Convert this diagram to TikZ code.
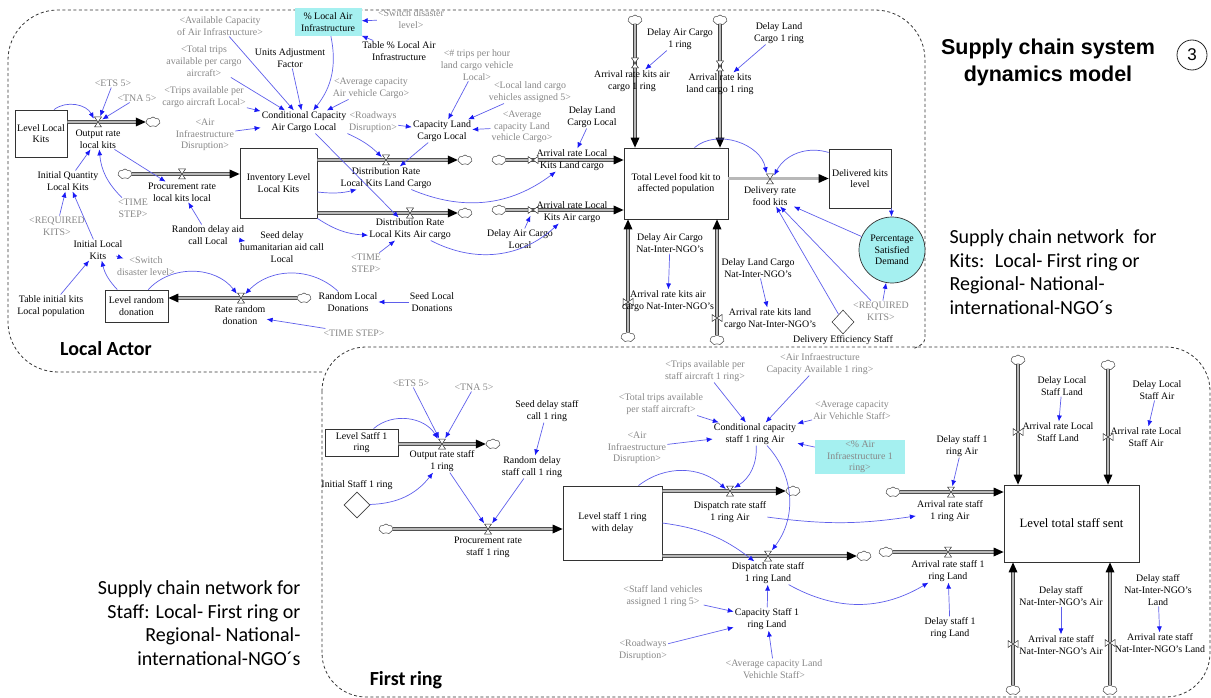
\documentclass[tikz,border=0pt]{standalone}
\usepackage{fontspec}
\setmainfont{Liberation Serif}
\newfontfamily\arialfam{Liberation Sans}
\newfontfamily\calfam{Carlito}
\usepackage{tikz}
\usetikzlibrary{
    arrows.meta,
    shapes.geometric,
    shapes.symbols,
    decorations.markings
}
\definecolor{linkc}{RGB}{95,95,235}
\definecolor{tipc}{RGB}{25,25,245}
\definecolor{ghostc}{RGB}{135,135,135}
\definecolor{aquac}{RGB}{165,240,240}
\newcommand{\vfont}{\fontsize{9.9}{11.7}\selectfont}

\begin{document}
\begin{tikzpicture}[x=1pt, y=-1pt,
        zone/.style={draw=black!80, line width=0.8pt, dash pattern=on 3pt off 2.5pt},
        stock/.style={draw=black!80, line width=0.8pt, fill=white, font=\vfont, align=center, inner sep=1pt},
        var/.style={font=\vfont, align=center, inner sep=1pt},
        ghost/.style={var, text=ghostc},
        sink/.style={cloud, cloud puffs=7, cloud puff arc=110, aspect=1.4, draw=black!75, fill=white,
            line width=0.5pt, minimum width=14pt, minimum height=10pt, inner sep=0pt},
        vnode/.style={inner sep=0pt, minimum width=8pt, minimum height=11pt},
        pipe/.style={draw=black!75, line width=0.7pt, double=black!28, double distance=2.4pt, shorten >=5pt,
            postaction={decorate, decoration={markings, mark=at position 1 with
                {\fill[black] (0pt,0pt) -- (-10pt,4.5pt) -- (-10pt,-4.5pt) -- cycle;}}}},
        link/.style={draw=linkc, line width=0.7pt, -{Latex[length=6pt, width=5pt, color=tipc]}},
        aux/.style={diamond, draw=black!75, fill=white, line width=0.6pt, inner sep=0pt},
        note/.style={font=\calfam\fontsize{20}{23.5}\selectfont},
        hourglass/.pic={\draw[draw=black!80, fill=white, line width=0.5pt]
            (-3.5,-5) -- (3.5,-5) -- (-3.5,5) -- (3.5,5) -- cycle;}
    ]
    \useasboundingbox (0,0) rectangle (1211,698);

    % actor zones
    \draw[zone, rounded corners=50pt] (322,372) -- (8,372) -- (8,10) -- (925,10) -- (925,334);
    \draw[zone] (925,334) .. controls (925,343) .. (913,349);
    \draw[zone, rounded corners=44pt] (322,347) rectangle (1210,697);

    % headings and notes
    \node[font=\arialfam\bfseries\fontsize{21.5}{27}\selectfont, align=center] (title) at (1048,62) {Supply chain system\\dynamics model};
    \node[circle, draw=black!85, line width=0.8pt, minimum size=30pt, inner sep=0pt,
        font=\arialfam\fontsize{17}{17}\selectfont] (num) at (1192,55) {3};
    \node[note, align=left, anchor=west] (kitsnote) at (946,272)
        {Supply chain network~ for\\Kits:~ Local- First ring or\\Regional- National-\\international-NGO´s};
    \node[note, align=right, anchor=east] (staffnote) at (304,623)
        {Supply chain network for\\Staff: Local- First ring or\\Regional- National-\\international-NGO´s};
    \node[font=\calfam\bfseries\fontsize{20}{20}\selectfont] (localhd) at (106,349) {Local Actor};
    \node[font=\calfam\bfseries\fontsize{20}{20}\selectfont] (ringhd) at (406,680) {First ring};

    % stocks
    \node[stock, minimum width=52pt, minimum height=47pt] (LLK) at (41,133.5) {Level Local\\Kits};
    \node[stock, minimum width=77pt, minimum height=70pt] (ILLK) at (278.5,183) {Inventory Level\\Local Kits};
    \node[stock, minimum width=104pt, minimum height=71pt] (TLF) at (676,183.5) {Total Level food kit to\\affected population};
    \node[stock, minimum width=62pt, minimum height=59pt] (DKL) at (860,178.5) {Delivered kits\\level};
    \node[stock, minimum width=63pt, minimum height=32pt] (LRD) at (136.5,306) {Level random\\donation};
    \node[stock, minimum width=73pt, minimum height=27pt] (LS1) at (361.5,442.5) {Level Satff 1\\ring};
    \node[stock, minimum width=99pt, minimum height=74pt] (LSD) at (612.5,523) {Level staff 1 ring\\with delay};
    \node[stock, minimum width=135pt, minimum height=77pt, font=\fontsize{12.7}{14}\selectfont] (LTS) at (1071.5,523.5) {Level total staff sent};

    % sources and sinks
    \node[sink] (c1) at (153,122) {};
    \node[sink] (c2) at (125,174) {};
    \node[sink] (c3) at (465,160) {};
    \node[sink] (c4) at (465,213) {};
    \node[sink] (c5) at (499,160) {};
    \node[sink] (c6) at (499,210) {};
    \node[sink] (c7) at (635,20) {};
    \node[sink] (c8) at (720,20) {};
    \node[sink] (c9) at (628,337) {};
    \node[sink] (c10) at (717,340) {};
    \node[sink] (c11) at (304,298) {};
    \node[sink] (s1) at (493,444) {};
    \node[sink] (s2) at (386,529) {};
    \node[sink] (s3) at (793,491) {};
    \node[sink] (s4) at (864,556) {};
    \node[sink] (s5) at (893,492) {};
    \node[sink] (s6) at (886,552) {};
    \node[sink] (s7) at (1018,360) {};
    \node[sink] (s8) at (1108,365) {};
    \node[sink] (s9) at (1013,690) {};
    \node[sink] (s10) at (1110,690) {};

    % flows
    \draw[pipe] (LLK.east |- c1) -- (c1.west);
    \draw[pipe] (c2.east) -- (ILLK.west |- c2);
    \draw[pipe] (ILLK.east |- c3) -- (c3.west);
    \draw[pipe] (ILLK.east |- c4) -- (c4.west);
    \draw[pipe] (c5.east) -- (TLF.west |- c5);
    \draw[pipe] (c6.east) -- (TLF.west |- c6);
    \draw[pipe] (c7.south) -- (TLF.north -| c7);
    \draw[pipe] (c8.south) -- (TLF.north -| c8);
    \draw[pipe] (c9.north) -- (TLF.south -| c9);
    \draw[pipe] (c10.north) -- (TLF.south -| c10);
    \draw[pipe] (TLF.east |- DKL.west) -- (DKL.west);
    \draw[pipe] (c11.west) -- (LRD.east |- c11);
    \draw[pipe] (LS1.east |- s1) -- (s1.west);
    \draw[pipe] (s2.east) -- (LSD.west |- s2);
    \draw[pipe] (LSD.east |- s3) -- (s3.west);
    \draw[pipe] (LSD.east |- s4) -- (s4.west);
    \draw[pipe] (s5.east) -- (LTS.west |- s5);
    \draw[pipe] (s6.east) -- (LTS.west |- s6);
    \draw[pipe] (s7.south) -- (LTS.north -| s7);
    \draw[pipe] (s8.south) -- (LTS.north -| s8);
    \draw[pipe] (s9.north) -- (LTS.south -| s9);
    \draw[pipe] (s10.north) -- (LTS.south -| s10);

    % valves
    \path (98,122) pic{hourglass} node[vnode] (vOLK) {};
    \path (182,174) pic{hourglass} node[vnode] (vPLK) {};
    \path (386,160) pic{hourglass} node[vnode] (vDLL) {};
    \path (410,213) pic{hourglass} node[vnode] (vDLA) {};
    \path (533,160) pic[rotate=90]{hourglass} node[vnode] (vALL) {};
    \path (533,210) pic[rotate=90]{hourglass} node[vnode] (vALA) {};
    \path (635,63) pic{hourglass} node[vnode] (vAA1) {};
    \path (720,66) pic{hourglass} node[vnode] (vAL1) {};
    \path (770,179) pic{hourglass} node[vnode] (vDFK) {};
    \path (628,302) pic[rotate=90]{hourglass} node[vnode] (vAAN) {};
    \path (717,318) pic[rotate=90]{hourglass} node[vnode] (vALN) {};
    \path (241,298) pic{hourglass} node[vnode] (vRRD) {};
    \path (442,444) pic{hourglass} node[vnode] (vOS1) {};
    \path (488,529) pic{hourglass} node[vnode] (vPS1) {};
    \path (730,491) pic{hourglass} node[vnode] (vDSA) {};
    \path (768,556) pic{hourglass} node[vnode] (vDSL) {};
    \path (951,492) pic{hourglass} node[vnode] (vASA) {};
    \path (948,552) pic{hourglass} node[vnode] (vASL) {};
    \path (1018,432) pic[rotate=90]{hourglass} node[vnode] (vLSL) {};
    \path (1108,437) pic[rotate=90]{hourglass} node[vnode] (vLSA) {};
    \path (1013,644) pic[rotate=90]{hourglass} node[vnode] (vNSA) {};
    \path (1110,643) pic[rotate=90]{hourglass} node[vnode] (vNSL) {};

    % local actor variables
    \node[ghost] (ACAI) at (220,26) {<Available Capacity\\of Air Infrastructure>};
    \node[ghost] (TTCA) at (204,61) {<Total trips\\available per cargo\\aircraft>};
    \node[var] (UAF) at (290,58) {Units Adjustment\\Factor};
    \node[var, fill=aquac, minimum width=67pt, minimum height=28pt] (PLAI) at (328,22) {\% Local Air\\Infrastructure};
    \node[ghost] (SDL1) at (411,19) {<Switch disaster\\level>};
    \node[var] (TPLAI) at (399,51) {Table \% Local Air\\Infrastructure};
    \node[ghost] (ETS1) at (113,83) {<ETS 5>};
    \node[ghost] (TNA1) at (137,98) {<TNA 5>};
    \node[ghost] (TACL) at (204,97) {<Trips available per\\cargo aircraft Local>};
    \node[ghost] (AID1) at (205,135) {<Air\\Infraestructure\\Disruption>};
    \node[var] (CCAL) at (304,122) {Conditional Capacity\\Air Cargo Local};
    \node[ghost] (AACV) at (371,88) {<Average capacity\\Air vehicle Cargo>};
    \node[ghost] (RWD1) at (373,122) {<Roadways\\Disruption>};
    \node[var] (CLCL) at (442,131) {Capacity Land\\Cargo Local};
    \node[ghost] (TPHL) at (477,65) {<\# trips per hour\\land cargo vehicle\\Local>};
    \node[ghost] (LLCV) at (530,92) {<Local land cargo\\vehicles assigned 5>};
    \node[ghost] (ACLV) at (522,127) {<Average\\capacity Land\\vehicle Cargo>};
    \node[var] (DLCL) at (592,117) {Delay Land\\Cargo Local};
    \node[var] (DRLL) at (386,178) {Distribution Rate\\Local Kits Land Cargo};
    \node[var] (DRLA) at (410,229) {Distribution Rate\\Local Kits Air cargo};
    \node[var] (ARLL) at (572,160) {Arrival rate Local\\Kits Land cargo};
    \node[var] (ARLA) at (572,212) {Arrival rate Local\\Kits Air cargo};
    \node[var] (DACL) at (520,239) {Delay Air Cargo\\Local};
    \node[ghost] (TS2) at (366,263) {<TIME\\STEP>};
    \node[var] (ORLK) at (98,139) {Output rate\\local kits};
    \node[var] (IQLK) at (68,181) {Initial Quantity\\Local Kits};
    \node[ghost] (TS1) at (133,208) {<TIME\\STEP>};
    \node[ghost] (RK1) at (57,226) {<REQUIRED\\KITS>};
    \node[var] (PRLK) at (182,192) {Procurement rate\\local kits local};
    \node[var] (RDAC) at (208,235) {Random delay aid\\call Local};
    \node[var] (SDHA) at (282,247) {Seed delay\\humanitarian aid call\\Local};
    \node[var] (ILK) at (98,250) {Initial Local\\Kits};
    \node[ghost] (SDL2) at (146,266) {<Switch\\disaster level>};
    \node[var] (TIKL) at (51,306) {Table initial kits\\Local population};
    \node[var] (RRD) at (240,315) {Rate random\\donation};
    \node[var] (RLD) at (348,302) {Random Local\\Donations};
    \node[var] (SLD) at (432,302) {Seed Local\\Donations};
    \node[ghost] (TS3) at (354,333) {<TIME STEP>};
    \node[var] (ARA1) at (632,81) {Arrival rate kits air\\cargo 1 ring};
    \node[var] (DAC1) at (680,39) {Delay Air Cargo\\1 ring};
    \node[var] (ARL1) at (720,84) {Arrival rate kits\\land cargo 1 ring};
    \node[var] (DLC1) at (779,33) {Delay Land\\Cargo 1 ring};
    \node[var] (DRFK) at (770,196) {Delivery rate\\food kits};
    \node[var, circle, draw=black!80, line width=0.7pt, fill=aquac, minimum size=66pt, inner sep=0pt] (PSD) at (892,250) {Percentage\\Satisfied\\Demand};
    \node[var] (DACN) at (670,243) {Delay Air Cargo\\Nat-Inter-NGO's};
    \node[var] (ARAN) at (668,301) {Arrival rate kits air\\cargo Nat-Inter-NGO's};
    \node[var] (DLCN) at (758,268) {Delay Land Cargo\\Nat-Inter-NGO's};
    \node[var] (ARLN) at (770,319) {Arrival rate kits land\\cargo Nat-Inter-NGO's};
    \node[aux, minimum width=22pt, minimum height=24pt] (DES) at (843,322) {};
    \node[var] (DESL) at (843,340) {Delivery Efficiency Staff};
    \node[ghost] (RK2) at (881,311) {<REQUIRED\\KITS>};

    % first ring variables
    \node[ghost] (ETS2) at (411,383) {<ETS 5>};
    \node[ghost] (TNA2) at (474,387) {<TNA 5>};
    \node[var] (SDSC) at (547,411) {Seed delay staff\\call 1 ring};
    \node[var] (ORS1) at (442,461) {Output rate staff\\1 ring};
    \node[var] (RDSC) at (532,467) {Random delay\\staff call 1 ring};
    \node[var] (IS1L) at (357,485) {Initial Staff 1 ring};
    \node[aux, minimum width=26pt, minimum height=26pt] (IS1) at (357,505) {};
    \node[var] (PRS1) at (488,547) {Procurement rate\\staff 1 ring};
    \node[ghost] (TASA) at (705,371) {<Trips available per\\staff aircraft 1 ring>};
    \node[ghost] (AICA) at (820,364) {<Air Infraestructure\\Capacity Available 1 ring>};
    \node[ghost] (TTSA) at (661,404) {<Total trips available\\per staff aircraft>};
    \node[ghost] (ACAS) at (852,410) {<Average capacity\\Air Vehichle Staff>};
    \node[var] (CCSA) at (755,434) {Conditional capacity\\staff 1 ring Air};
    \node[ghost] (AID2) at (637,448) {<Air\\Infraestructure\\Disruption>};
    \node[ghost, fill=aquac, minimum width=90pt, minimum height=33pt] (PAI1) at (860,457) {<\% Air\\Infraestructure 1\\ring>};
    \node[var] (DRSA) at (730,512) {Dispatch rate staff\\1 ring Air};
    \node[var] (DRSL) at (768,573) {Dispatch rate staff\\1 ring Land};
    \node[ghost] (SLVA) at (663,596) {<Staff land vehicles\\assigned 1 ring 5>};
    \node[var] (CS1L) at (767,619) {Capacity Staff 1\\ring Land};
    \node[ghost] (RWD2) at (643,650) {<Roadways\\Disruption>};
    \node[ghost] (ACLS) at (774,669) {<Average capacity Land\\Vehichle Staff>};
    \node[var] (ARSA) at (950,511) {Arrival rate staff\\1 ring Air};
    \node[var] (ARSL) at (948,571) {Arrival rate staff 1\\ring Land};
    \node[var] (DSA) at (962,446) {Delay staff 1\\ring Air};
    \node[var] (DSL) at (950,628) {Delay staff 1\\ring Land};
    \node[var] (ARLSL) at (1058,432) {Arrival rate Local\\Staff Land};
    \node[var] (ARLSA) at (1146,437) {Arrival rate Local\\Staff Air};
    \node[var] (DLSL) at (1062,386) {Delay Local\\Staff Land};
    \node[var] (DLSA) at (1157,390) {Delay Local\\Staff Air};
    \node[var] (ARNA) at (1061,645) {Arrival rate staff\\Nat-Inter-NGO's Air};
    \node[var] (ARNL) at (1160,643) {Arrival rate staff\\Nat-Inter-NGO's Land};
    \node[var] (DSNA) at (1061,596) {Delay staff\\Nat-Inter-NGO's Air};
    \node[var] (DSNL) at (1158,590) {Delay staff\\Nat-Inter-NGO's\\Land};

    % causal links, straight
    \foreach \a/\b in {ACAI/CCAL, TTCA/CCAL, UAF/CCAL, AACV/CCAL, TACL/CCAL, AID1/CCAL,
            SDL1/PLAI, TPLAI/PLAI, CCAL/DRLA, CLCL/DRLL, TPHL/CLCL, LLCV/CLCL, ACLV/CLCL,
            RWD1/CLCL, DLCL/ARLL, DACL/vALA, ORLK/PRLK, ETS1/vOLK, TNA1/vOLK, IQLK/ORLK,
            RDAC/PRLK, ILK/IQLK, RK1/IQLK, TIKL/ILK, SDL2/ILK, SDHA/RDAC, SLD/RLD, TS3/RRD,
            TS2/DRLA, RK2/PSD, PSD/DRFK, RK2/DRFK, DES/DRFK, DAC1/ARA1, DLC1/ARL1,
            DACN/ARAN, DLCN/ARLN, ETS2/vOS1, TNA2/vOS1, SDSC/RDSC, ORS1/vPS1, RDSC/vPS1,
            CS1L/DRSL, SLVA/CS1L, RWD2/CS1L, ACLS/CS1L, DSA/vASA, DSL/ARSL, DLSL/ARLSL,
            DLSA/ARLSA, DSNA/ARNA, DSNL/ARNL, TASA/CCSA, AICA/CCSA, TTSA/CCSA, ACAS/CCSA,
            AID2/CCSA, PAI1/CCSA}
        \draw[link] (\a) -- (\b);

    % causal links, curved
    \draw[link] (PLAI) to[bend left=25] (CCAL);
    \draw[link] (CCAL) to[bend left=10] (vDLL);
    \draw[link] ([yshift=-9pt]ILLK.east) to[bend right=10] (DRLL);
    \draw[link] (ILLK.south east) to[bend right=15] (DRLA);
    \draw[link] (DRLL) to[bend right=30] (ARLL);
    \draw[link] (DRLA) to[bend right=35] (ARLA);
    \draw[link] (LLK) to[bend left=50] (vOLK);
    \draw[link] (TS1) to[bend left=20] (ORLK);
    \draw[link] (LRD) to[bend left=15] (ILK);
    \draw[link] (LRD) to[bend left=50] (vRRD);
    \draw[link] (RLD) to[bend right=45] (vRRD);
    \draw[link] (TLF) to[bend left=60] (vDFK);
    \draw[link] (DKL) to[bend right=40] (vDFK);
    \draw[link] (DKL.south east) -- (PSD);
    \draw[link] (LS1) to[bend left=50] (vOS1);
    \draw[link] (IS1) to[bend right=25] (ORS1);
    \draw[link] (LSD) to[bend left=40] (vDSA);
    \draw[link] (CCSA) to[bend left=30] (vDSA);
    \draw[link] (CCSA) to[bend left=40] (vDSL);
    \draw[link] (LSD.east) to[bend left=15] (DRSL);
    \draw[link] (DRSA) to[bend right=8] (ARSA);
    \draw[link] (DRSL) to[bend right=30] (ARSL);
\end{tikzpicture}
\end{document}
